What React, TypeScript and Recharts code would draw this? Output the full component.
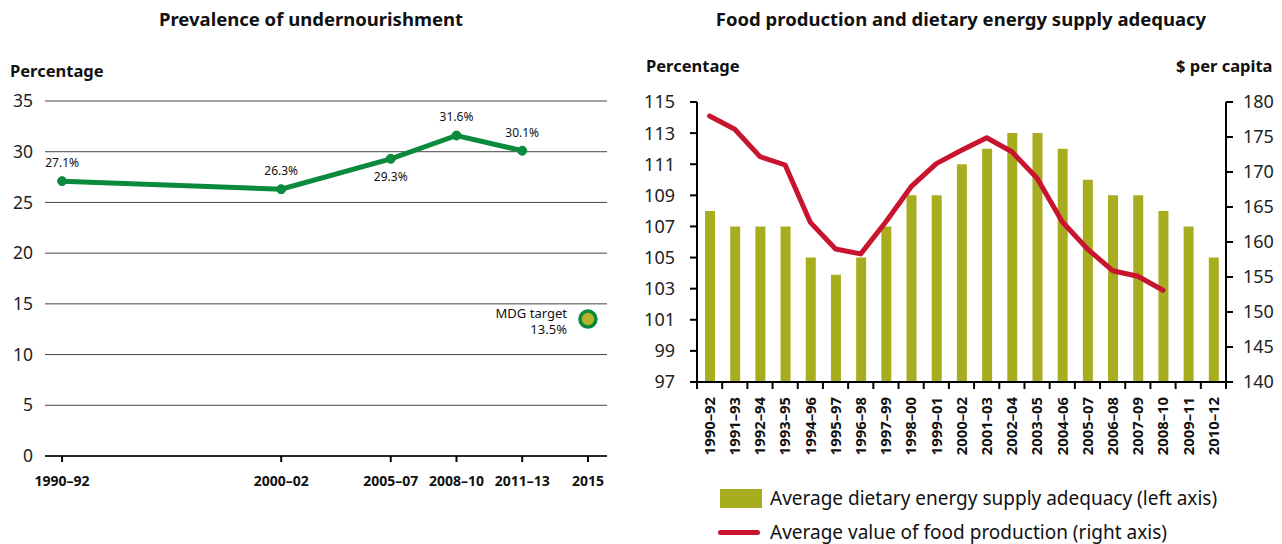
import React from "react";
import {
  ComposedChart,
  Line,
  Bar,
  XAxis,
  YAxis,
  CartesianGrid,
  LabelList,
} from "recharts";

// left panel: prevalence of undernourishment
const leftPeriods = ["1990–92", "2000–02", "2005–07", "2008–10", "2011–13"];
const leftYears = [1991, 2001, 2006, 2009, 2012];
const undernourishment = [27.1, 26.3, 29.3, 31.6, 30.1];
const mdgYear = 2015;
const mdgLabel = "2015";
const mdgTarget = 13.5;
const leftYTicks = [0, 5, 10, 15, 20, 25, 30, 35];

// right panel: food production and DES adequacy
const periods = [
  "1990–92", "1991–93", "1992–94", "1993–95", "1994–96", "1995–97", "1996–98",
  "1997–99", "1998–00", "1999–01", "2000–02", "2001–03", "2002–04", "2003–05",
  "2004–06", "2005–07", "2006–08", "2007–09", "2008–10", "2009–11", "2010–12",
];
const adequacy = [
  108, 107, 107, 107, 105, 103.9, 105, 107, 109, 109, 111, 112, 113, 113, 112,
  110, 109, 109, 108, 107, 105,
];
const foodValue = [
  178, 176.1, 172.2, 171, 162.8, 159, 158.3, 162.9, 167.9, 171.2, 173.1, 174.9,
  172.9, 169.1, 162.9, 159, 155.9, 155.1, 153.1, null, null,
];
const leftAxisTicks = [97, 99, 101, 103, 105, 107, 109, 111, 113, 115];
const rightAxisTicks = [140, 145, 150, 155, 160, 165, 170, 175, 180];

const legendBars = "Average dietary energy supply adequacy (left axis)";
const legendLine = "Average value of food production (right axis)";

const GREEN = "#0a8a3c";
const OLIVE = "#a8ad1f";
const RED = "#c8142f";
const FONT = "'Noto Sans', 'Open Sans', sans-serif";

const leftData = [
  ...leftYears.map((year, i) => ({ year, rate: undernourishment[i], mdg: null as number | null })),
  { year: mdgYear, rate: null as number | null, mdg: mdgTarget },
];
const leftTicks = [...leftYears, mdgYear];
const leftTickLabels = [...leftPeriods, mdgLabel];

const rightData = periods.map((period, i) => ({
  period,
  adequacy: adequacy[i],
  food: foodValue[i],
}));

const RateLabel = (props: any) => {
  const { x, y, value, index } = props;
  if (value == null) return null;
  const below = index === 2;
  return (
    <text
      x={x}
      y={below ? y + 22 : y - 14}
      textAnchor="middle"
      fontSize={12}
      fontFamily={FONT}
      fill="#111"
    >
      {value.toFixed(1)}%
    </text>
  );
};

const MdgDot = (props: any) => {
  const { cx, cy, value } = props;
  if (value == null || cx == null) return null;
  return (
    <g>
      <circle cx={cx} cy={cy} r={8} fill="#b4b32a" stroke={GREEN} strokeWidth={3.5} />
      <text x={cx - 21} y={cy - 1} textAnchor="end" fontSize={13} fontFamily={FONT} fill="#111">
        MDG target
      </text>
      <text x={cx - 21} y={cy + 15} textAnchor="end" fontSize={13} fontFamily={FONT} fill="#111">
        {value.toFixed(1)}%
      </text>
    </g>
  );
};

const YearTick = (props: any) => {
  const { x, y, payload } = props;
  const idx = leftTicks.indexOf(payload.value);
  return (
    <g>
      <line x1={x} x2={x} y1={y} y2={y + 6} stroke="#000" strokeWidth={2} />
      <text
        x={x}
        y={y + 30}
        textAnchor="middle"
        fontSize={14}
        fontWeight={700}
        fontFamily={FONT}
        fill="#111"
      >
        {leftTickLabels[idx]}
      </text>
    </g>
  );
};

const PeriodTick = (props: any) => {
  const { x, y, payload, index } = props;
  const half = payload.offset ?? 12.6;
  const ty = y + 15;
  return (
    <g>
      <line x1={x - half} x2={x - half} y1={y} y2={y + 7} stroke="#000" strokeWidth={2} />
      {index === periods.length - 1 && (
        <line x1={x + half} x2={x + half} y1={y} y2={y + 7} stroke="#000" strokeWidth={2} />
      )}
      <text
        x={x}
        y={ty}
        dy="0.36em"
        transform={`rotate(-90 ${x} ${ty})`}
        textAnchor="end"
        fontSize={14.8}
        fontWeight={700}
        fontFamily={FONT}
        fill="#111"
      >
        {payload.value}
      </text>
    </g>
  );
};

const abs = (left: number, top: number): React.CSSProperties => ({
  position: "absolute",
  left,
  top,
  whiteSpace: "nowrap",
});

const App = () => {
  return (
    <div
      style={{
        position: "absolute",
        left: 0,
        top: 0,
        width: 1282,
        height: 544,
        background: "#fff",
        fontFamily: FONT,
        color: "#111",
        overflow: "hidden",
      }}
    >
      <div style={{ ...abs(0, 6), width: 622, textAlign: "center", fontWeight: 700, fontSize: 18.5 }}>
        Prevalence of undernourishment
      </div>
      <div style={{ ...abs(630, 6), width: 662, textAlign: "center", fontWeight: 700, fontSize: 18.5 }}>
        Food production and dietary energy supply adequacy
      </div>
      <div style={{ ...abs(10, 59), fontWeight: 700, fontSize: 16.5 }}>Percentage</div>
      <div style={{ ...abs(646, 54), fontWeight: 700, fontSize: 16.5 }}>Percentage</div>
      <div style={{ ...abs(1176, 54), fontWeight: 700, fontSize: 16.5 }}>$ per capita</div>

      <div style={abs(0, 0)}>
        <ComposedChart
          width={640}
          height={544}
          data={leftData}
          margin={{ top: 101, right: 33, bottom: 58, left: 0 }}
        >
          <CartesianGrid vertical={false} stroke="#444" strokeWidth={1} />
          <XAxis
            dataKey="year"
            type="number"
            domain={[1990.22, 2015.87]}
            ticks={leftTicks}
            interval={0}
            height={30}
            axisLine={{ stroke: "#000", strokeWidth: 1.5 }}
            tickLine={false}
            tickSize={0}
            tickMargin={0}
            tick={<YearTick />}
          />
          <YAxis
            domain={[0, 35]}
            ticks={leftYTicks}
            interval={0}
            width={45}
            axisLine={false}
            tickLine={false}
            tickSize={0}
            tickMargin={12}
            tick={{ fontSize: 17.5, fill: "#222", fontFamily: FONT }}
          />
          <Line
            dataKey="rate"
            stroke={GREEN}
            strokeWidth={5}
            dot={{ r: 4.5, fill: GREEN, stroke: GREEN, strokeWidth: 1 }}
            isAnimationActive={false}
          >
            <LabelList dataKey="rate" content={<RateLabel />} />
          </Line>
          <Line
            dataKey="mdg"
            stroke="none"
            dot={<MdgDot />}
            isAnimationActive={false}
          />
        </ComposedChart>
      </div>

      <div style={abs(630, 0)}>
        <ComposedChart
          width={652}
          height={544}
          data={rightData}
          margin={{ top: 102, right: 6, bottom: 82, left: 7 }}
          barCategoryGap={0}
        >
          <XAxis
            dataKey="period"
            interval={0}
            height={80}
            axisLine={{ stroke: "#000", strokeWidth: 2 }}
            tickLine={false}
            tickSize={0}
            tickMargin={0}
            tick={<PeriodTick />}
          />
          <YAxis
            yAxisId="left"
            domain={[97, 115]}
            ticks={leftAxisTicks}
            interval={0}
            allowDataOverflow
            width={60}
            axisLine={{ stroke: "#000", strokeWidth: 2 }}
            tickLine={{ stroke: "#000", strokeWidth: 2 }}
            tickSize={7}
            tickMargin={15}
            tick={{ fontSize: 18, fill: "#222", fontFamily: FONT }}
          />
          <YAxis
            yAxisId="right"
            orientation="right"
            domain={[140, 180]}
            ticks={rightAxisTicks}
            interval={0}
            width={50}
            axisLine={{ stroke: "#000", strokeWidth: 2 }}
            tickLine={{ stroke: "#000", strokeWidth: 2 }}
            tickSize={7}
            tickMargin={10}
            tick={{ fontSize: 18, fill: "#222", fontFamily: FONT, textAnchor: "start" }}
          />
          <Bar
            yAxisId="left"
            dataKey="adequacy"
            fill={OLIVE}
            barSize={10}
            isAnimationActive={false}
          />
          <Line
            yAxisId="right"
            dataKey="food"
            stroke={RED}
            strokeWidth={5}
            dot={false}
            strokeLinejoin="round"
            strokeLinecap="round"
            isAnimationActive={false}
          />
        </ComposedChart>
      </div>

      <div style={{ ...abs(720, 489), width: 42, height: 19, background: OLIVE }} />
      <div style={{ ...abs(770, 485), fontSize: 19, lineHeight: "26px" }}>{legendBars}</div>
      <div style={{ ...abs(718, 530), width: 42, height: 5, borderRadius: 3, background: RED }} />
      <div style={{ ...abs(770, 519), fontSize: 19, lineHeight: "26px" }}>{legendLine}</div>
    </div>
  );
};

export default App;
